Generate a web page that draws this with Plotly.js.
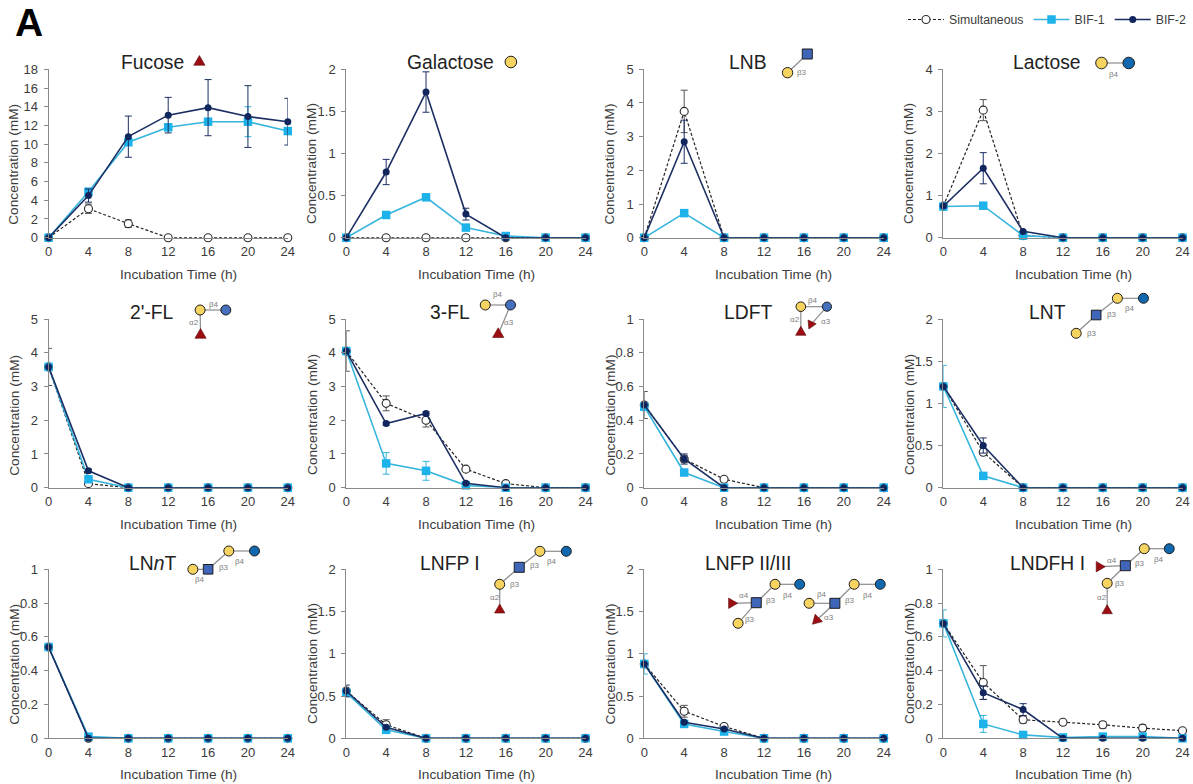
<!DOCTYPE html>
<html><head><meta charset="utf-8">
<script src="https://cdn.plot.ly/plotly-3.0.1.min.js"></script>
<style>html,body{margin:0;padding:0;background:#fff}#g{width:1193px;height:784px}</style>
</head><body><div id="g"></div>
<script>
const times=[0,4,8,12,16,20,24];
const fucoseSim=[0,3.1,1.5,0,0,0,0], fucoseSimErr=[0,0.5,0.4,0,0,0,0];
const fucoseB1=[0,4.9,10.2,11.8,12.4,12.4,11.4], fucoseB1Err=[0,0.4,0.25,0.2,0.25,1.6,0.3];
const fucoseB2=[0,4.5,10.8,13.1,13.9,12.95,12.4], fucoseB2Err=[0,0.7,2.2,1.9,3.0,3.3,2.5];
const galSim=[0,0,0,0,0,0,0], galSimErr=[0,0,0,0,0,0,0];
const galB1=[0,0.27,0.48,0.12,0.02,0,0], galB1Err=[0,0.02,0.02,0.03,0,0,0];
const galB2=[0,0.78,1.73,0.28,0,0,0], galB2Err=[0,0.15,0.24,0.07,0,0,0];
const lnbSim=[0,3.75,0,0,0,0,0], lnbSimErr=[0,0.63,0,0,0,0,0];
const lnbB1=[0,0.73,0,0,0,0,0], lnbB1Err=[0,0.05,0,0,0,0,0];
const lnbB2=[0,2.85,0,0,0,0,0], lnbB2Err=[0,0.64,0,0,0,0,0];
const lacSim=[0.75,3.03,0.05,0,0,0,0], lacSimErr=[0,0.25,0,0,0,0,0];
const lacB1=[0.74,0.76,0.05,0,0,0,0], lacB1Err=[0.05,0.05,0,0,0,0,0];
const lacB2=[0.75,1.65,0.15,0,0,0,0], lacB2Err=[0,0.37,0,0,0,0,0];
const fl2Sim=[3.58,0.12,0,0,0,0,0], fl2SimErr=[0.55,0,0,0,0,0,0];
const fl2B1=[3.58,0.25,0,0,0,0,0], fl2B1Err=[0,0.05,0,0,0,0,0];
const fl2B2=[3.58,0.5,0,0,0,0,0], fl2B2Err=[0,0.05,0,0,0,0,0];
const fl3Sim=[4.05,2.5,2.0,0.55,0.12,0,0], fl3SimErr=[0.6,0.22,0.2,0.03,0.02,0,0];
const fl3B1=[4.05,0.72,0.5,0.07,0,0,0], fl3B1Err=[0,0.32,0.28,0,0,0,0];
const fl3B2=[4.05,1.9,2.2,0.13,0,0,0], fl3B2Err=[0,0.05,0.05,0,0,0,0];
const ldftSim=[0.49,0.17,0.05,0,0,0,0], ldftSimErr=[0.08,0.02,0.01,0,0,0,0];
const ldftB1=[0.48,0.09,0,0,0,0,0], ldftB1Err=[0,0.01,0,0,0,0,0];
const ldftB2=[0.49,0.17,0,0,0,0,0], ldftB2Err=[0,0.03,0,0,0,0,0];
const lntSim=[1.2,0.42,0,0,0,0,0], lntSimErr=[0,0.03,0,0,0,0,0];
const lntB1=[1.2,0.14,0,0,0,0,0], lntB1Err=[0.25,0.01,0,0,0,0,0];
const lntB2=[1.2,0.5,0,0,0,0,0], lntB2Err=[0,0.09,0,0,0,0,0];
const lnntSim=[0.54,0,0,0,0,0,0], lnntSimErr=[0,0,0,0,0,0,0];
const lnntB1=[0.54,0.01,0,0,0,0,0], lnntB1Err=[0,0,0,0,0,0,0];
const lnntB2=[0.54,0,0,0,0,0,0], lnntB2Err=[0,0,0,0,0,0,0];
const lnfp1Sim=[0.56,0.16,0,0,0,0,0], lnfp1SimErr=[0,0.06,0,0,0,0,0];
const lnfp1B1=[0.54,0.1,0,0,0,0,0], lnfp1B1Err=[0,0.01,0,0,0,0,0];
const lnfp1B2=[0.56,0.13,0,0,0,0,0], lnfp1B2Err=[0.07,0.01,0,0,0,0,0];
const lnfp2Sim=[0.88,0.32,0.14,0,0,0,0], lnfp2SimErr=[0,0.07,0.02,0,0,0,0];
const lnfp2B1=[0.88,0.17,0.08,0,0,0,0], lnfp2B1Err=[0.12,0.01,0.01,0,0,0,0];
const lnfp2B2=[0.88,0.19,0.11,0,0,0,0], lnfp2B2Err=[0,0.01,0.01,0,0,0,0];
const lndfhSim=[0.68,0.33,0.11,0.095,0.08,0.06,0.045], lndfhSimErr=[0,0.1,0.02,0.01,0.02,0.02,0.01];
const lndfhB1=[0.68,0.085,0.02,0.005,0.01,0.01,0], lndfhB1Err=[0.08,0.05,0,0,0.01,0.01,0];
const lndfhB2=[0.68,0.27,0.17,0,0,0,0], lndfhB2Err=[0,0.04,0.035,0,0,0,0];
const seriesNames=['Simultaneous','BIF-1','BIF-2'];

const W=1193,H=784;
const colX=[[48.6,287.8],[346.3,585.5],[644.3,883.7],[943.4,1182.5]];
const rowY=[[69.3,237.7],[319,487.7],[569.3,738.3]];
const yTitleX=[13.8,312,609.5,909], xTitleX=[178,476.5,773.4,1073];
const yTitleY=[164,415,664], xTitleY=[274,524,774];
const titleY=[62,312,563], titleX=[152,450,748,1047];

const panels=[
 {t:'Fucose',m:18,d:2,s:[fucoseSim,fucoseSimErr,fucoseB1,fucoseB1Err,fucoseB2,fucoseB2Err]},
 {t:'Galactose',m:2,d:0.5,s:[galSim,galSimErr,galB1,galB1Err,galB2,galB2Err]},
 {t:'LNB',m:5,d:1,s:[lnbSim,lnbSimErr,lnbB1,lnbB1Err,lnbB2,lnbB2Err]},
 {t:'Lactose',m:4,d:1,s:[lacSim,lacSimErr,lacB1,lacB1Err,lacB2,lacB2Err]},
 {t:"2'-FL",m:5,d:1,s:[fl2Sim,fl2SimErr,fl2B1,fl2B1Err,fl2B2,fl2B2Err]},
 {t:'3-FL',m:5,d:1,s:[fl3Sim,fl3SimErr,fl3B1,fl3B1Err,fl3B2,fl3B2Err]},
 {t:'LDFT',m:1,d:0.2,s:[ldftSim,ldftSimErr,ldftB1,ldftB1Err,ldftB2,ldftB2Err]},
 {t:'LNT',m:2,d:0.5,s:[lntSim,lntSimErr,lntB1,lntB1Err,lntB2,lntB2Err]},
 {t:'LN<i>n</i>T',m:1,d:0.2,s:[lnntSim,lnntSimErr,lnntB1,lnntB1Err,lnntB2,lnntB2Err]},
 {t:'LNFP I',m:2,d:0.5,s:[lnfp1Sim,lnfp1SimErr,lnfp1B1,lnfp1B1Err,lnfp1B2,lnfp1B2Err]},
 {t:'LNFP II/III',m:2,d:0.5,s:[lnfp2Sim,lnfp2SimErr,lnfp2B1,lnfp2B1Err,lnfp2B2,lnfp2B2Err]},
 {t:'LNDFH I',m:1,d:0.2,s:[lndfhSim,lndfhSimErr,lndfhB1,lndfhB1Err,lndfhB2,lndfhB2Err]}
];

const FONT='"Liberation Sans", Arial, sans-serif', TXT='#3c3c3c', AXIS='#8a8a8a';
const px=x=>x/W, py=y=>1-y/H;
const styles=[
 {line:{color:'#222222',width:1.2,dash:'3px,2px'},marker:{symbol:'circle',size:8,color:'#ffffff',line:{color:'#2a2a2a',width:1.1}},err:'#555555'},
 {line:{color:'#35b4dc',width:1.6},marker:{symbol:'square',size:8.5,color:'#1db2ea',line:{width:0}},err:'#35b4dc'},
 {line:{color:'#1c2f63',width:1.6},marker:{symbol:'circle',size:7,color:'#12265e',line:{width:0}},err:'#1c2f63'}
];
const traces=[],layout={width:W,height:H,margin:{l:0,r:0,t:0,b:0},paper_bgcolor:'#fff',plot_bgcolor:'rgba(0,0,0,0)',
 font:{family:FONT,color:TXT,size:13},showlegend:true,
 legend:{orientation:'h',x:1191/W,xanchor:'right',y:py(19.5),yanchor:'middle',font:{size:12.3,color:TXT},itemwidth:36,tracegroupgap:0,bgcolor:'rgba(0,0,0,0)',traceorder:'normal'},
 annotations:[],shapes:[]};

panels.forEach((p,i)=>{
 const c=i%4,r=Math.floor(i/4),n=i+1,xk='xaxis'+(n===1?'':n),yk='yaxis'+(n===1?'':n),xa='x'+(n===1?'':n),ya='y'+(n===1?'':n);
 layout[xk]={domain:[px(colX[c][0]),px(colX[c][1])],range:[0,24],anchor:ya,tickvals:times,ticktext:times.map(String),ticks:'',showgrid:false,zeroline:false,showline:true,linecolor:AXIS,linewidth:1.3,tickfont:{size:13,color:TXT},ticklabelstandoff:2};
 layout[yk]={domain:[py(rowY[r][1]),py(rowY[r][0])],range:[0,p.m],anchor:xa,dtick:p.d,tick0:0,ticks:'outside',ticklen:4,tickcolor:AXIS,tickwidth:1,showgrid:false,zeroline:false,showline:true,linecolor:AXIS,linewidth:1,tickfont:{size:13,color:TXT},ticklabelstandoff:3};
 for(let k=0;k<3;k++){
  const st=styles[k];
  traces.push({type:'scatter',mode:'lines+markers',name:seriesNames[k],legendgroup:seriesNames[k],showlegend:i===0,x:times,y:p.s[k*2],xaxis:xa,yaxis:ya,cliponaxis:false,
   line:st.line,marker:st.marker,error_y:{type:'data',array:p.s[k*2+1],visible:true,color:st.err,thickness:1,width:3.5}});
 }
 layout.annotations.push({xref:'paper',yref:'paper',x:px(titleX[c]),y:py(titleY[r]),text:p.t,showarrow:false,xanchor:'center',yanchor:'middle',font:{size:19.3,color:'#222'}});
 layout.annotations.push({xref:'paper',yref:'paper',x:px(xTitleX[c]),y:py(xTitleY[r]),text:'Incubation Time (h)',showarrow:false,xanchor:'center',yanchor:'middle',font:{size:13.7,color:TXT}});
 layout.annotations.push({xref:'paper',yref:'paper',x:px(yTitleX[c]),y:py(yTitleY[r]),text:'Concentration (mM)',textangle:-90,showarrow:false,xanchor:'center',yanchor:'middle',font:{size:13.7,color:TXT}});
});
layout.annotations.push({xref:'paper',yref:'paper',x:px(29),y:py(23),text:'<b>A</b>',showarrow:false,xanchor:'center',yanchor:'middle',font:{size:39,color:'#000'}});

// Glycan symbols (positions measured on the page)
const YEL='#f7d35f',SQ='#3f66b8',GLC='#1268ae',GLC2='#4470bd',RED='#9c0d12',EDGE='#1d1d1d';
const gx=x=>x<600?x*1.148:600+(x-600)*1.1346;
function link(a,b){layout.shapes.push({type:'line',xref:'paper',yref:'paper',x0:px(gx(a[0])),y0:py(a[1]),x1:px(gx(b[0])),y1:py(b[1]),line:{color:'#8c8c8c',width:1.2}});}
function circ(c,col,r=5.8){const x=gx(c[0]);layout.shapes.push({type:'circle',xref:'paper',yref:'paper',x0:px(x-r),x1:px(x+r),y0:py(c[1]-r),y1:py(c[1]+r),fillcolor:col,line:{color:EDGE,width:1}});}
function sq(c,h=5){const x=gx(c[0]);layout.shapes.push({type:'rect',xref:'paper',yref:'paper',x0:px(x-h),x1:px(x+h),y0:py(c[1]-h),y1:py(c[1]+h),fillcolor:SQ,line:{color:EDGE,width:1}});}
function tri(c,deg=0,r=6.5){const x=gx(c[0]);const pts=[-90,30,150].map(a=>{const t=(a+deg)*Math.PI/180;return [x+r*Math.cos(t),c[1]+r*Math.sin(t)];});
 layout.shapes.push({type:'path',xref:'paper',yref:'paper',path:'M'+pts.map(q=>px(q[0])+' '+py(q[1])).join(' L')+' Z',fillcolor:RED,line:{color:'#5a0a0a',width:0.6}});}
function lab(c,t){layout.annotations.push({xref:'paper',yref:'paper',x:px(gx(c[0])),y:py(c[1]),text:t,showarrow:false,xanchor:'center',yanchor:'middle',font:{size:8,color:'#7d7d7d'}});}

tri([173.7,62]);
circ([445,62],YEL);
link([765.3,72.7],[782.7,54]);circ([765.3,72.7],YEL,5.2);sq([782.7,54]);lab([778,72],'β3');
link([1042,63],[1066,63]);circ([1042,63],YEL);circ([1066,63],GLC);lab([1053,74.7],'β4');
link([174.3,310],[196.7,310]);link([174.3,310],[174.7,335]);circ([174.3,310],YEL,5);circ([196.7,310],GLC2,5);tri([174.7,335]);lab([186,304],'β4');lab([169.3,322.7],'α2');
link([422.7,305],[444.7,305]);link([444.7,305],[434,334.3]);circ([422.7,305],YEL,5);circ([444.7,305],GLC2,5);tri([434,334.3]);lab([434,295],'β4');lab([443.3,322.7],'α3');
link([777,306.7],[800,306.7]);link([777,306.7],[777,332.3]);link([800,306.7],[786,324.3]);circ([777,306.7],YEL,4.8);circ([800,306.7],GLC2,4.6);tri([777,332.3],0,6);tri([786,324.3],-35,5.2);lab([788,300],'β4');lab([772,319.3],'α2');lab([799.3,321.7],'α3');
link([1079,298.3],[1056,298.3]);link([1056,298.3],[1037.3,315]);link([1037.3,315],[1019.7,333.3]);circ([1079,298.3],GLC,5);circ([1056,298.3],YEL,5);sq([1037.3,315],4.8);circ([1019.7,333.3],YEL,5);lab([1066.7,308.3],'β4');lab([1051.3,314.3],'β3');lab([1033.3,333.3],'β3');
link([221.7,551],[199.3,551]);link([199.3,551],[181.3,569.3]);link([181.3,569.3],[168,569.3]);circ([221.7,551],GLC,5);circ([199.3,551],YEL,5);sq([181.3,569.3],4.8);circ([168,569.3],YEL,5);lab([209.3,561],'β4');lab([195.3,567.3],'β3');lab([174,579.3],'β4');
link([493.3,551.3],[470.3,551.3]);link([470.3,551.3],[452.3,567.3]);link([452.3,567.3],[435.3,584.3]);link([435.3,584.3],[435.3,610]);circ([493.3,551.3],GLC,5);circ([470.3,551.3],YEL,5);sq([452.3,567.3],5);circ([435.3,584.3],YEL,5);tri([435.3,610],0,6);lab([481,561],'β4');lab([466,565.3],'β3');lab([448.3,584.3],'β3');lab([431,597.3],'α2');
link([776,584.3],[754.3,584.3]);link([754.3,584.3],[737.7,602.7]);link([737.7,602.7],[716,603.3]);link([737.7,602.7],[721.7,623.3]);circ([776,584.3],GLC,5);circ([754.3,584.3],YEL,5);sq([737.7,602.7],5);tri([716,603.3],90,6);circ([721.7,623.3],YEL,5);lab([766,595],'β4');lab([750.7,600.7],'β3');lab([726.7,595],'α4');lab([732,619.3],'β3');
link([847,584.3],[824,584.3]);link([824,584.3],[807,603.3]);link([807,603.3],[784.3,603.3]);link([807,603.3],[791,620]);circ([847,584.3],GLC,5);circ([824,584.3],YEL,5);sq([807,603.3],5);circ([784.3,603.3],YEL,5);tri([791,620],-135,6);lab([836,595],'β4');lab([820,600.7],'β3');lab([795.7,594.3],'β4');lab([802,617.3],'α3');
link([1101.7,548.7],[1079.7,548.7]);link([1079.7,548.7],[1063,565.7]);link([1063,565.7],[1040,566.7]);link([1063,565.7],[1047,583.3]);link([1047,583.3],[1047,610.7]);circ([1101.7,548.7],GLC,5);circ([1079.7,548.7],YEL,5);sq([1063,565.7],5);tri([1040,566.7],90,6);circ([1047,583.3],YEL,5);tri([1047,610.7],0,6);lab([1092.7,559],'β4');lab([1076,563.3],'β3');lab([1051.3,560.7],'α4');lab([1058.7,583.3],'β3');lab([1042.3,597.3],'α2');

Plotly.newPlot('g',traces,layout,{displayModeBar:false,responsive:false});
</script></body></html>
